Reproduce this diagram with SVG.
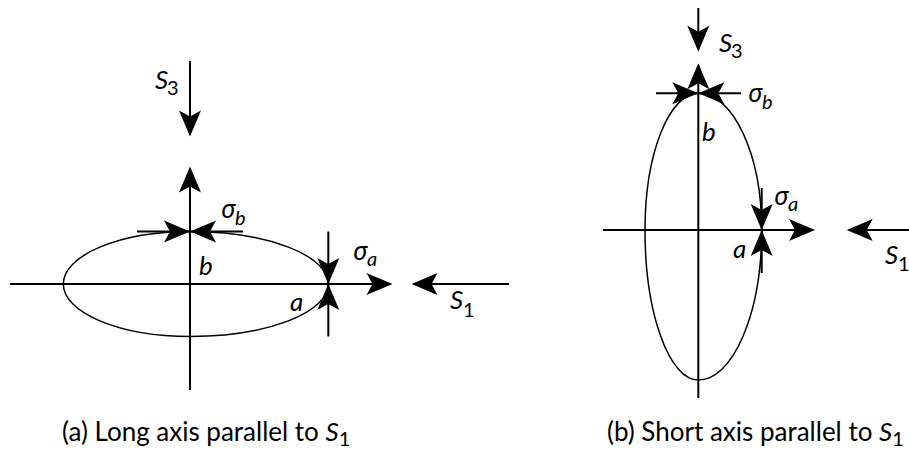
<svg xmlns="http://www.w3.org/2000/svg" xmlns:xlink="http://www.w3.org/1999/xlink" width="909" height="449" viewBox="0 0 909 449">
<style>
.ax{stroke:#000;stroke-width:2;fill:none}
.el{stroke:#000;stroke-width:1.5;fill:none}
.ah{fill:#000}
.lbl{font-family:Lato,"Noto Sans",sans-serif;font-style:italic;font-size:26px;fill:#000}
.sub{font-size:20px;font-style:normal}
.sig{font-family:"Noto Sans",Lato,sans-serif;font-style:italic;font-size:25px;fill:#000}
.subl{font-family:Lato,"Noto Sans",sans-serif;font-size:20px}
.cap{font-family:Lato,"Noto Sans",sans-serif;font-size:26px;fill:#000}
</style>
<defs>
<path id="ah" d="M0,0 L-26,-11 L-20,0 L-26,11 Z"/>
</defs>
<rect width="909" height="449" fill="#fff"/>

<g id="diagram-a">
  <g id="a-ellipse">
    <path class="el" d="M63.3,284 A126.7,52.5 0 0 1 190,231.5 A138.3,52.5 0 0 1 328.3,284 A138.3,52.5 0 0 1 190,336.5 A126.7,52.5 0 0 1 63.3,284 Z"/>
  </g>
  <g id="a-connectors">
    <line class="ax" x1="10" y1="284" x2="390" y2="284"/>
    <line class="ax" x1="414" y1="284" x2="509" y2="284"/>
    <line class="ax" x1="190" y1="169" x2="190" y2="390"/>
    <line class="ax" x1="190" y1="61" x2="190" y2="134"/>
    <line class="ax" x1="137" y1="231.5" x2="243" y2="231.5"/>
    <line class="ax" x1="328.3" y1="231.5" x2="328.3" y2="336.5"/>
    <use class="ah" xlink:href="#ah" transform="translate(392.5,284)"/>
    <use class="ah" xlink:href="#ah" transform="translate(411.5,284) rotate(180)"/>
    <use class="ah" xlink:href="#ah" transform="translate(190,166.5) rotate(-90)"/>
    <use class="ah" xlink:href="#ah" transform="translate(190,136.5) rotate(90)"/>
    <use class="ah" xlink:href="#ah" transform="translate(190,231.5)"/>
    <use class="ah" xlink:href="#ah" transform="translate(190,231.5) rotate(180)"/>
    <use class="ah" xlink:href="#ah" transform="translate(328.3,284) rotate(90)"/>
    <use class="ah" xlink:href="#ah" transform="translate(328.3,284) rotate(-90)"/>
  </g>
  <g id="a-labels">
    <text class="lbl" x="155" y="89">S<tspan class="sub" x="167" y="95">3</tspan></text>
    <text class="sig" x="221" y="218">σ<tspan class="subl" x="235" y="225">b</tspan></text>
    <text class="lbl" x="199" y="275">b</text>
    <text class="sig" x="353" y="260">σ<tspan class="subl" x="367" y="266">a</tspan></text>
    <text class="lbl" x="290" y="311">a</text>
    <text class="lbl" x="450" y="309">S<tspan class="sub" x="463" y="317">1</tspan></text>
  </g>
</g>

<g id="diagram-b">
  <g id="b-ellipse">
    <path class="el" d="M645,230 A53.3,136.7 0 0 1 698.3,93.3 A63.4,136.7 0 0 1 761.7,230 A63.4,150 0 0 1 698.3,380 A53.3,150 0 0 1 645,230 Z"/>
  </g>
  <g id="b-connectors">
    <line class="ax" x1="603" y1="230" x2="813" y2="230"/>
    <line class="ax" x1="849" y1="230" x2="909" y2="230"/>
    <line class="ax" x1="698.3" y1="8" x2="698.3" y2="49"/>
    <line class="ax" x1="698.3" y1="66" x2="698.3" y2="398"/>
    <line class="ax" x1="656" y1="93.3" x2="741" y2="93.3"/>
    <line class="ax" x1="761.7" y1="188" x2="761.7" y2="273"/>
    <use class="ah" xlink:href="#ah" transform="translate(815,230)"/>
    <use class="ah" xlink:href="#ah" transform="translate(846.7,230) rotate(180)"/>
    <use class="ah" xlink:href="#ah" transform="translate(698.3,51.7) rotate(90)"/>
    <use class="ah" xlink:href="#ah" transform="translate(698.3,63.3) rotate(-90)"/>
    <use class="ah" xlink:href="#ah" transform="translate(698.3,93.3)"/>
    <use class="ah" xlink:href="#ah" transform="translate(698.3,93.3) rotate(180)"/>
    <use class="ah" xlink:href="#ah" transform="translate(761.7,230) rotate(90)"/>
    <use class="ah" xlink:href="#ah" transform="translate(761.7,230) rotate(-90)"/>
  </g>
  <g id="b-labels">
    <text class="lbl" x="719" y="52">S<tspan class="sub" x="731" y="58">3</tspan></text>
    <text class="sig" x="748" y="102">σ<tspan class="subl" x="762" y="109">b</tspan></text>
    <text class="lbl" x="702" y="141">b</text>
    <text class="sig" x="774" y="205">σ<tspan class="subl" x="788" y="211">a</tspan></text>
    <text class="lbl" x="733" y="258">a</text>
    <text class="lbl" x="885" y="264">S<tspan class="sub" x="898" y="271">1</tspan></text>
  </g>
</g>

<g id="captions">
  <text class="cap" x="62" y="441">(a) Long axis parallel to <tspan font-style="italic">S</tspan><tspan class="sub" dy="5">1</tspan></text>
  <text class="cap" x="607" y="441">(b) Short axis parallel to <tspan font-style="italic">S</tspan><tspan class="sub" dy="5">1</tspan></text>
</g>
</svg>
